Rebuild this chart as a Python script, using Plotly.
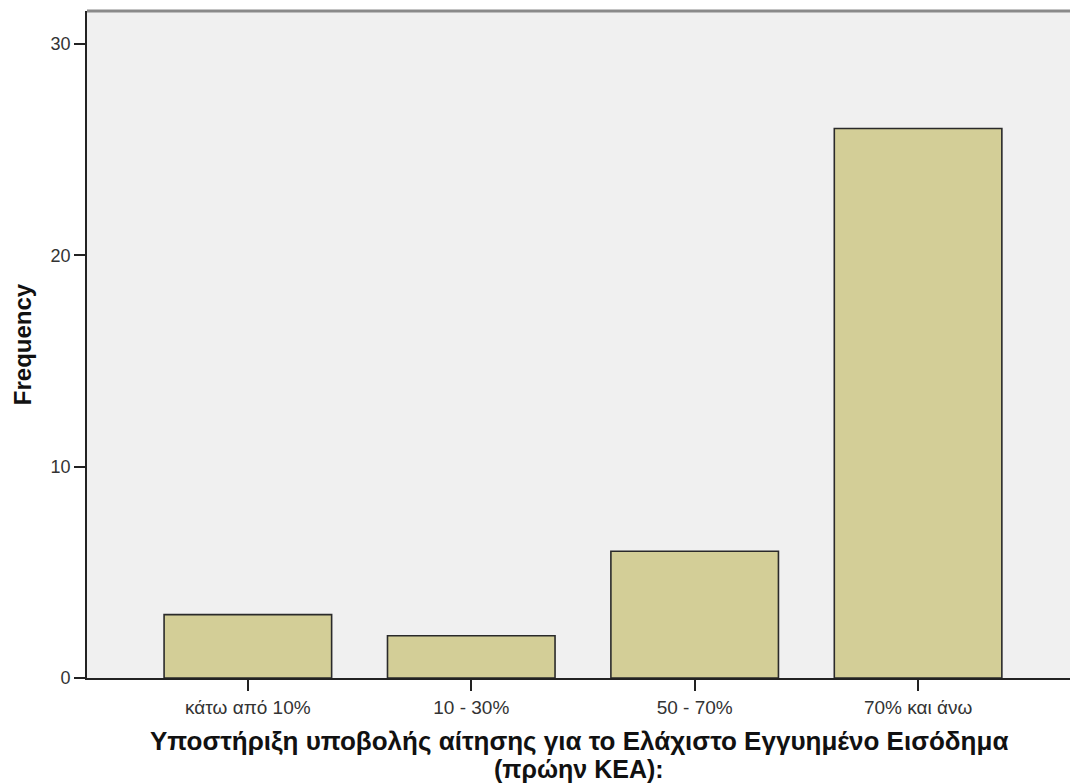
import plotly.graph_objects as go

categories = ["κάτω από 10%", "10 - 30%", "50 - 70%", "70% και άνω"]
frequencies = [3, 2, 6, 26]
y_ticks = [0, 10, 20, 30]
x_title_lines = ["Υποστήριξη υποβολής αίτησης για το Ελάχιστο Εγγυημένο Εισόδημα",
                 "(πρώην ΚΕΑ):"]

W, H = 1070, 783
L, R, T, B = 87, 0, 11, 105

fig = go.Figure()
fig.add_trace(go.Bar(
    x=list(range(len(categories))),
    y=frequencies,
    width=0.75,
    marker=dict(color="#D3CE97", line=dict(color="#2A2A2A", width=1.6)),
    hoverinfo="x+y",
))

fig.update_layout(
    width=W, height=H,
    margin=dict(l=L, r=R, t=T, b=B, pad=0),
    paper_bgcolor="white",
    plot_bgcolor="#F0F0F0",
    font=dict(family="Liberation Sans, Arial, sans-serif", size=18, color="#222"),
    showlegend=False,
)
fig.update_xaxes(
    tickmode="array",
    tickvals=list(range(len(categories))),
    ticktext=categories,
    range=[-0.72, 3.68],
    showgrid=False, zeroline=False,
    showline=True, linecolor="#222", linewidth=1.6,
    ticks="outside", ticklen=11, tickwidth=1.6, tickcolor="#222",
    tickfont=dict(size=19, color="#333"),
)
fig.update_yaxes(
    tickmode="array",
    tickvals=y_ticks,
    ticktext=[str(v) for v in y_ticks],
    range=[0, 31.56],
    showgrid=False, zeroline=False,
    showline=True, linecolor="#222", linewidth=1.6,
    ticks="outside", ticklen=11, tickwidth=1.6, tickcolor="#222",
    tickfont=dict(size=18, color="#333"),
    title=dict(text="<b>Frequency</b>", font=dict(size=24, color="#111"), standoff=12),
)

# top border of plot frame
fig.add_shape(type="line", xref="paper", yref="paper", x0=0, x1=1, y0=1, y1=1,
              line=dict(color="#8A8A8A", width=3))

plot_h = H - T - B
cx = 0.5
for line, yc, fs in zip(x_title_lines, [741, 769], [26, 25]):
    fig.add_annotation(
        xref="paper", yref="paper",
        x=cx, y=-(yc - (H - B)) / plot_h,
        text="<b>" + line + "</b>",
        showarrow=False, align="center", yanchor="middle", xanchor="center",
        font=dict(size=fs, color="#111"),
    )

fig.write_html("out.html",
               config={"displayModeBar": False},
               post_script="document.body.style.margin='0';document.body.style.overflow='hidden';")
